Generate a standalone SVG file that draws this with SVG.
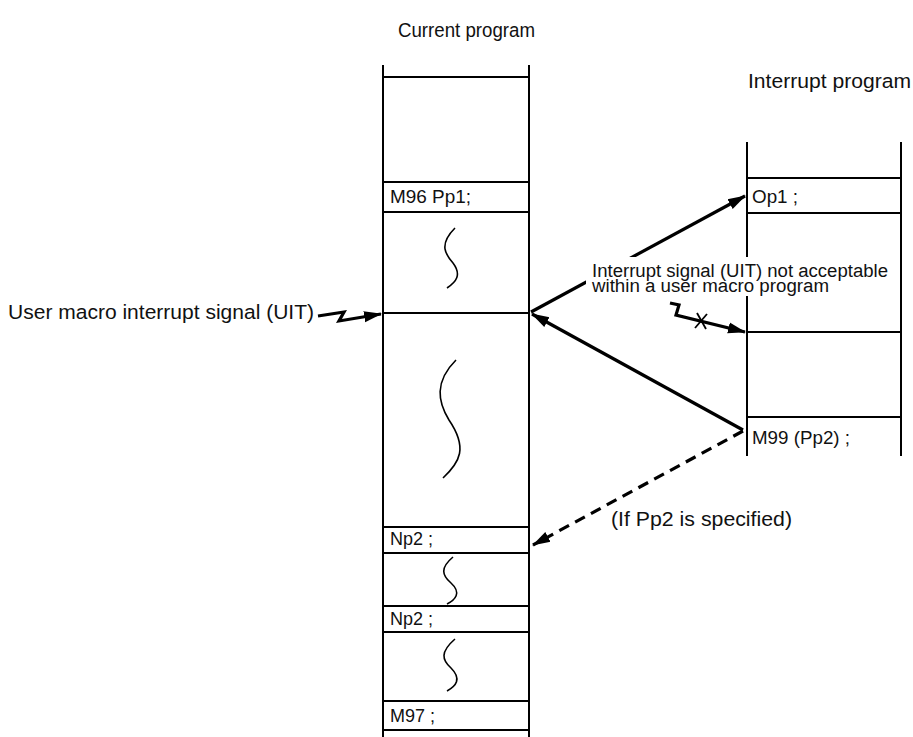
<svg xmlns="http://www.w3.org/2000/svg" width="913" height="737" viewBox="0 0 913 737">
<style>
text{font-family:"Liberation Sans",Arial,sans-serif;fill:#111}
.t{font-size:20.5px}
.r{font-size:17.5px}
.col{stroke:#000;stroke-width:2;fill:none}
.sq{stroke:#000;stroke-width:1.6;fill:none}
.ar{stroke:#000;stroke-width:3.2;fill:none}
</style>
<defs>
<marker id="ah" markerWidth="18" markerHeight="13" refX="17" refY="6.5" orient="auto" markerUnits="userSpaceOnUse">
<path d="M0,1 L18,6.5 L0,12 Z" fill="#000"/>
</marker>
</defs>
<rect width="913" height="737" fill="#fff"/>
<text class="t" x="398" y="37" textLength="137" lengthAdjust="spacingAndGlyphs">Current program</text>
<text class="t" x="748" y="88" textLength="163" lengthAdjust="spacingAndGlyphs">Interrupt program</text>

<g id="current-program">
<line class="col" x1="383" y1="65" x2="383" y2="737"/>
<line class="col" x1="529" y1="65" x2="529" y2="737"/>
<line class="col" x1="383" y1="77" x2="529" y2="77"/>
<line class="col" x1="383" y1="182" x2="529" y2="182"/>
<line class="col" x1="383" y1="212" x2="529" y2="212"/>
<line class="col" x1="383" y1="313" x2="529" y2="313"/>
<line class="col" x1="383" y1="527" x2="529" y2="527"/>
<line class="col" x1="383" y1="553" x2="529" y2="553"/>
<line class="col" x1="383" y1="606" x2="529" y2="606"/>
<line class="col" x1="383" y1="632" x2="529" y2="632"/>
<line class="col" x1="383" y1="701" x2="529" y2="701"/>
<line class="col" x1="383" y1="730" x2="529" y2="730"/>
<text class="r" x="390" y="203" textLength="81" lengthAdjust="spacingAndGlyphs">M96 Pp1;</text>
<text class="r" x="390" y="545" textLength="43" lengthAdjust="spacingAndGlyphs">Np2 ;</text>
<text class="r" x="390" y="625" textLength="43" lengthAdjust="spacingAndGlyphs">Np2 ;</text>
<text class="r" x="390" y="722" textLength="45" lengthAdjust="spacingAndGlyphs">M97 ;</text>
<path class="sq" d="M455,228 C438,245 446,255 453,263 C462,275 456,282 447,288"/>
<path class="sq" d="M456,360 C434,382 438,402 449,420 C468,448 460,462 443,478"/>
<path class="sq" d="M453,557 C440,568 442,575 451,583 C462,593 455,600 447,604"/>
<path class="sq" d="M455,639 C440,652 442,660 451,668 C462,679 456,686 447,691"/>
</g>

<g id="interrupt-program">
<line class="col" x1="747" y1="142" x2="747" y2="456"/>
<line class="col" x1="901" y1="142" x2="901" y2="456"/>
<line class="col" x1="747" y1="178" x2="901" y2="178"/>
<line class="col" x1="747" y1="213" x2="901" y2="213"/>
<line class="col" x1="747" y1="332" x2="901" y2="332"/>
<line class="col" x1="747" y1="417" x2="901" y2="417"/>
<text class="r" x="752" y="203" textLength="46" lengthAdjust="spacingAndGlyphs">Op1 ;</text>
<text class="r" x="752" y="444" textLength="98" lengthAdjust="spacingAndGlyphs">M99 (Pp2) ;</text>
</g>

<g id="connectors">
<polyline class="ar" points="318,316 344,312 339,321 381,314" marker-end="url(#ah)"/>
<line class="ar" x1="531" y1="312" x2="745" y2="196" marker-end="url(#ah)"/>
<line class="ar" x1="743" y1="430" x2="532" y2="314" marker-end="url(#ah)"/>
<line class="ar" x1="743" y1="431" x2="533" y2="545" stroke-dasharray="11,7" marker-end="url(#ah)"/>
<polyline class="ar" points="670,303 679,305 676,315 745,332" marker-end="url(#ah)"/>
<line x1="697" y1="313" x2="706" y2="329" stroke="#000" stroke-width="1.8"/>
<line x1="695" y1="328" x2="707" y2="314" stroke="#000" stroke-width="1.8"/>
</g>

<g id="labels">
<rect x="586" y="257" width="306" height="39" fill="#fff"/>
<text x="592" y="277" font-size="18" textLength="296" lengthAdjust="spacingAndGlyphs">Interrupt signal (UIT) not acceptable</text>
<text x="592" y="292" font-size="18" textLength="237" lengthAdjust="spacingAndGlyphs">within a user macro program</text>
<text class="t" x="8" y="319" textLength="306" lengthAdjust="spacingAndGlyphs">User macro interrupt signal (UIT)</text>
<text class="t" x="611" y="526" textLength="181" lengthAdjust="spacingAndGlyphs">(If Pp2 is specified)</text>
</g>
</svg>
